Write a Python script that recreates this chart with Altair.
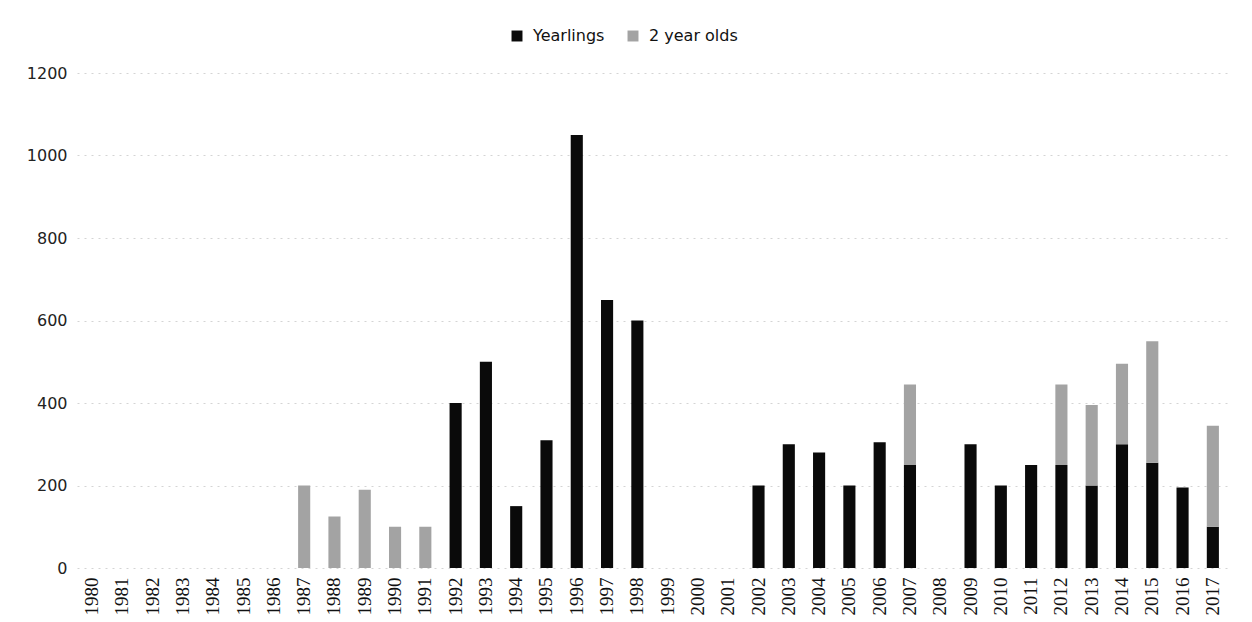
import altair as alt
import pandas as pd

years = [str(y) for y in range(1980, 2018)]
yearlings = [0, 0, 0, 0, 0, 0, 0, 0, 0, 0, 0, 0,
             400, 500, 150, 310, 1050, 650, 600, 0, 0, 0,
             200, 300, 280, 200, 305, 250, 0, 300, 200, 250,
             250, 200, 300, 255, 195, 100]
two_year_olds = [0, 0, 0, 0, 0, 0, 0, 200, 125, 190, 100, 100,
                 0, 0, 0, 0, 0, 0, 0, 0, 0, 0,
                 0, 0, 0, 0, 0, 195, 0, 0, 0, 0,
                 195, 195, 195, 295, 0, 245]
series = ["Yearlings", "2 year olds"]
colors = ["#0a0a0a", "#a3a3a3"]

rows = []
for i, y in enumerate(years):
    rows.append({"year": y, "series": series[0], "value": yearlings[i], "ord": 0})
    rows.append({"year": y, "series": series[1], "value": two_year_olds[i], "ord": 1})
df = pd.DataFrame(rows)

chart = alt.Chart(df).mark_bar().encode(
    x=alt.X("year:N", sort=years, title=None,
            scale=alt.Scale(paddingInner=0.6, paddingOuter=0.3),
            axis=alt.Axis(labelAngle=-90, labelFont="Liberation Serif", labelFontSize=19,
                          labelColor="#111", domain=False, ticks=False, labelPadding=9,
                          labelBaseline="middle", labelAlign="right",
                          minExtent=45, maxExtent=45)),
    y=alt.Y("value:Q", stack="zero", title=None,
            scale=alt.Scale(domain=[0, 1200], nice=False),
            axis=alt.Axis(values=[0, 200, 400, 600, 800, 1000, 1200], format="d",
                          labelFont="DejaVu Sans", labelFontSize=16, labelColor="#222",
                          domain=False, ticks=False, labelPadding=10,
                          gridColor="#d4d4d4", gridDash=[2, 5], gridWidth=1,
                          minExtent=69, maxExtent=69)),
    color=alt.Color("series:N", sort=series,
                    scale=alt.Scale(domain=series, range=colors),
                    legend=alt.Legend(title=None, orient="none", direction="horizontal",
                                      legendX=432, legendY=-45, symbolType="square",
                                      symbolSize=120, labelFont="DejaVu Sans", labelFontSize=16,
                                      labelColor="#111", labelOffset=8, columnPadding=20,
                                      symbolStrokeWidth=0)),
    order=alt.Order("ord:Q"),
).properties(
    width=1151, height=495,
    padding={"left": 0, "top": 20, "right": 8, "bottom": 0},
    background="white",
).configure_view(stroke="transparent", strokeWidth=0)

chart.save("out.html", embed_options={"renderer": "svg", "actions": False})
